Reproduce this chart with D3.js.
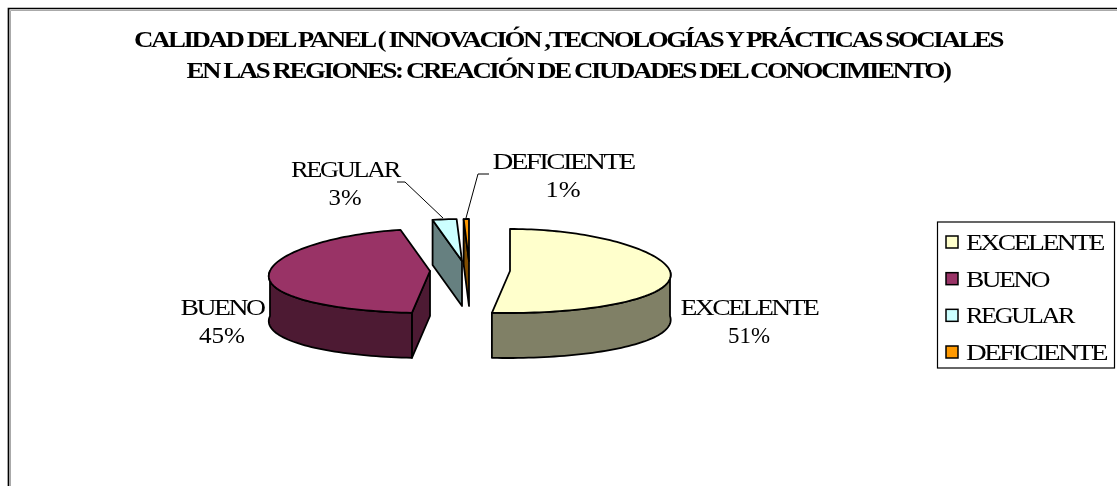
<!DOCTYPE html>
<html><head><meta charset="utf-8">
<script src="https://cdnjs.cloudflare.com/ajax/libs/d3/7.8.5/d3.min.js"></script>
<style>
html,body{margin:0;padding:0;background:#fff;overflow:hidden}
svg{display:block;filter:blur(.35px)}
text{font-family:"Liberation Serif","Times New Roman",serif;fill:#000}
.tight{letter-spacing:-.09em}
</style></head><body>
<svg id="c" width="1117" height="486"></svg>
<script>
const titleLines = ["CALIDAD DEL PANEL ( INNOVACIÓN ,TECNOLOGÍAS Y PRÁCTICAS SOCIALES","EN LAS REGIONES: CREACIÓN DE CIUDADES DEL CONOCIMIENTO)"];
const categories = ["EXCELENTE","BUENO","REGULAR","DEFICIENTE"];
const values = [51.4,45.3,2.7,0.6];
const topColors = ["#FFFFCC","#993366","#CCFFFF","#FF9900"];
const sideColors = ["#808066","#4D1A33","#668080","#804D00"];

const svg = d3.select("#c");
// chart frame (open on the right and bottom)
svg.append("path").attr("d","M8.5,486V8.5H1117").attr("fill","none").attr("stroke","#000").attr("stroke-width",1.7);
svg.append("path").attr("d","M10.5,486V10.5H1117").attr("fill","none").attr("stroke","#aaa").attr("stroke-width",1);

svg.selectAll("text.title").data(titleLines).join("text").attr("class","title tight")
  .attr("x",568).attr("y",(d,i)=>47+i*31).attr("text-anchor","middle")
  .attr("font-size",23).attr("font-weight","bold")
  .attr("textLength",(d,i)=>i?763:868).attr("lengthAdjust","spacingAndGlyphs").text(d=>d);

const centres = [{x:510,y:271},{x:430,y:271},{x:462,y:261},{x:469,y:261}];
const RX=160, RY=42, DEPTH=45, PERSP=0.0026, SHEAR=0.06;
const pie = d3.pie().sort(null).value(d=>d);
const arcs = pie(values);
const proj = (i,a)=>{const c=centres[i],dy=-RY*Math.cos(a);return [c.x+RX*Math.sin(a)*(1+PERSP*dy)-SHEAR*Math.max(dy,0),c.y+dy];};
const line = d3.line();
const samples=(a0,a1)=>{const n=Math.max(2,Math.ceil((a1-a0)/0.03));return d3.range(n+1).map(k=>a0+(a1-a0)*k/n);};
const layer = svg.append("g").attr("stroke","#000").attr("stroke-width",1.8).attr("stroke-linejoin","round");
const draw=(pts,fill)=>layer.append("path").attr("d",line(pts)+"Z").attr("fill",fill);
const down=p=>[p[0],p[1]+DEPTH];

[3,2,1,0].forEach(i=>{
  const s=arcs[i], c=[centres[i].x,centres[i].y];
  if(i>=1){const p=proj(i,s.startAngle);draw([p,c,down(c),down(p)],sideColors[i]);}
  const a0=Math.max(s.startAngle,Math.PI/2), a1=Math.min(s.endAngle,Math.PI*1.5);
  if(a1>a0){const rim=samples(a0,a1).map(a=>proj(i,a));draw(rim.concat(rim.slice().reverse().map(down)),sideColors[i]);}
  draw([c].concat(samples(s.startAngle,s.endAngle).map(a=>proj(i,a))),topColors[i]);
});

// data labels
const pct=d3.format(".0f");
const labelPos=[{x:749,y:307},{x:222,y:307},{x:345,y:169},{x:563,y:161}];
const labelW=[137,83,108,141];
const pctW=[42,46,33,35];
categories.forEach((n,i)=>{
  const l=labelPos[i];
  svg.append("text").attr("class","tight").attr("x",l.x).attr("y",l.y+8).attr("text-anchor","middle").attr("font-size",24)
    .attr("textLength",labelW[i]).attr("lengthAdjust","spacingAndGlyphs").text(n);
  svg.append("text").attr("x",l.x).attr("y",l.y+36).attr("text-anchor","middle").attr("font-size",24)
    .attr("textLength",pctW[i]).attr("lengthAdjust","spacingAndGlyphs").text(pct(values[i])+"%");
});
// leader lines
[[[397,182],[405,182],[443,218]],[[489,174],[478,174],[466,218]]].forEach(p=>
  svg.append("path").attr("d",line(p)).attr("fill","none").attr("stroke","#000").attr("stroke-width",1));

// legend
svg.append("rect").attr("x",937.5).attr("y",222).attr("width",177).attr("height",146).attr("fill","#fff").attr("stroke","#000").attr("stroke-width",1.2);
const ly=d3.scalePoint().domain(categories).range([242,352]);
const legW=[137,82,107,140];
categories.forEach((n,i)=>{
  svg.append("rect").attr("x",946).attr("y",ly(n)-6).attr("width",12).attr("height",12).attr("fill",topColors[i]).attr("stroke","#000").attr("stroke-width",1.5);
  svg.append("text").attr("class","tight").attr("x",966).attr("y",ly(n)+8).attr("font-size",24)
    .attr("textLength",legW[i]).attr("lengthAdjust","spacingAndGlyphs").text(n);
});
</script></body></html>
